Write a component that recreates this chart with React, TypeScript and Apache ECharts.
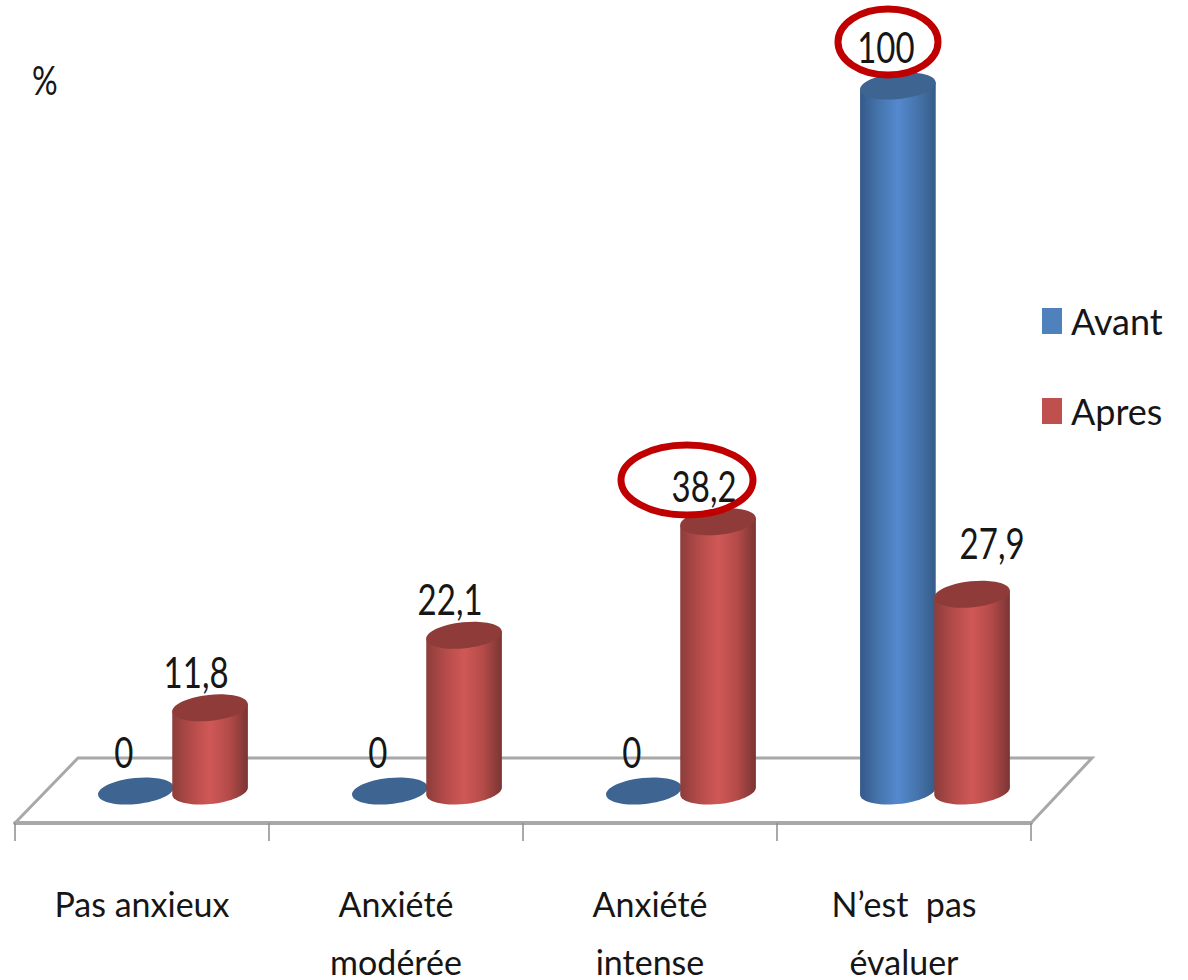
import React, { useEffect, useRef } from "react";
import * as echarts from "echarts";

const categories = ["Pas anxieux", "Anxiété\nmodérée", "Anxiété\nintense", "N’est  pas\névaluer"];
const avantValues = [0, 0, 0, 100];
const apresValues = [11.8, 22.1, 38.2, 27.9];
const seriesNames = ["Avant", "Apres"];

const FONT = 'Lato, "Liberation Sans", sans-serif';
const TILT = (6 * Math.PI) / 180;
const RX = 38;
const RY = 13;

const blueStops = ["#34598a", "#4675ad", "#5489cf", "#4675ad", "#355c88"];
const redStops = ["#8c3d3b", "#b44b49", "#d05856", "#b44b49", "#7a3533"];

const gradient = (stops: string[]) => ({
  type: "linear", x: 0, y: 0, x2: 1, y2: 0,
  colorStops: stops.map((color, i) => ({ offset: i / (stops.length - 1), color })),
});

const ex = (t: number) => RX * Math.cos(t) * Math.cos(TILT) + RY * Math.sin(t) * Math.sin(TILT);
const ey = (t: number) => -RX * Math.cos(t) * Math.sin(TILT) + RY * Math.sin(t) * Math.cos(TILT);
const T0 = Math.atan2(RY * Math.sin(TILT), RX * Math.cos(TILT));

function cylinder(opts: {
  bandShift: number; stops: string[]; top: string;
  labelNudge: (i: number) => [number, number];
}) {
  return (params: any, api: any) => {
    const i = api.value(0);
    const v = api.value(1);
    const band = api.size([1, 0])[0];
    const [cx0, yTop] = api.coord([i, v]);
    const [, yBase] = api.coord([i, 0]);
    const cx = cx0 + opts.bandShift * band;
    const children: any[] = [];
    if (v > 0) {
      const pts: number[][] = [[cx + ex(T0), yTop + ey(T0)]];
      for (let k = 0; k <= 32; k++) {
        const t = T0 + (Math.PI * k) / 32;
        pts.push([cx + ex(t), yBase + ey(t)]);
      }
      pts.push([cx + ex(T0 + Math.PI), yTop + ey(T0 + Math.PI)]);
      children.push({ type: "polygon", shape: { points: pts }, style: { fill: gradient(opts.stops) } });
    }
    children.push({
      type: "ellipse", x: cx, y: yTop, rotation: TILT,
      shape: { cx: 0, cy: 0, rx: RX, ry: RY }, style: { fill: opts.top },
    });
    const [dx, dy] = opts.labelNudge(i);
    children.push({
      type: "text", x: cx + dx, y: yTop + dy, scaleY: 1.3,
      style: {
        text: String(v).replace(".", ","),
        font: `33px ${FONT}`, fill: "#161616", align: "center", verticalAlign: "middle",
      },
    });
    return { type: "group", children };
  };
}

export default function App() {
  const ref = useRef<HTMLDivElement>(null);
  useEffect(() => {
    const chart = echarts.init(ref.current!, undefined, { renderer: "svg" });
    chart.setOption({
      animation: false,
      backgroundColor: "#ffffff",
      grid: { left: 15, right: 157, top: 86, bottom: 189, outerBoundsMode: "none" },
      legend: {
        orient: "vertical", left: 1042, top: 303, padding: 0, itemWidth: 20, itemHeight: 26, itemGap: 54,
        icon: "rect", data: seriesNames,
        textStyle: { fontFamily: FONT, fontSize: 36, color: "#161616", padding: [0, 0, 0, 4] },
      },
      xAxis: {
        type: "category", data: categories, offset: 32, boundaryGap: true,
        axisLine: { show: true, onZero: false, lineStyle: { color: "#a8a8a8", width: 4 } },
        axisTick: { show: true, length: 18, lineStyle: { color: "#8c8c8c", width: 1.5 } },
        axisLabel: {
          fontFamily: FONT, fontSize: 34, color: "#161616", lineHeight: 58, margin: 51,
          interval: 0, hideOverlap: false,
        },
      },
      yAxis: { type: "value", min: 0, max: 100, show: false },
      graphic: [
        {
          type: "polyline", z: 0, silent: true,
          shape: { points: [[15, 823], [78, 758], [1092, 758], [1031, 823]] },
          style: { stroke: "#a8a8a8", lineWidth: 3, fill: "none" },
        },
        {
          type: "text", x: 32, y: 60, z: 10, scaleY: 1.25,
          style: { text: "%", font: `32px ${FONT}`, fill: "#161616" },
        },
        {
          type: "ellipse", z: 100, silent: true,
          shape: { cx: 888, cy: 42, rx: 50, ry: 33 },
          style: { fill: "none", stroke: "#c00000", lineWidth: 7 },
        },
        {
          type: "ellipse", z: 100, silent: true,
          shape: { cx: 687, cy: 480, rx: 66, ry: 35 },
          style: { fill: "none", stroke: "#c00000", lineWidth: 7 },
        },
      ],
      series: [
        {
          name: seriesNames[0], type: "custom", clip: false, z: 5,
          itemStyle: { color: "#4f81bd" },
          encode: { x: 0, y: 1 },
          data: avantValues.map((v, i) => [i, v]),
          renderItem: cylinder({
            bandShift: -0.024, stops: blueStops, top: "#3e6591",
            labelNudge: () => [-12, -40],
          }),
        },
        {
          name: seriesNames[1], type: "custom", clip: false, z: 6,
          itemStyle: { color: "#c0504d" },
          encode: { x: 0, y: 1 },
          data: apresValues.map((v, i) => [i, v]),
          renderItem: cylinder({
            bandShift: 0.268, stops: redStops, top: "#8e3b39",
            labelNudge: (i) => (i === 3 ? [20, -52] : [-14, -37]),
          }),
        },
      ],
    });
    return () => chart.dispose();
  }, []);
  return <div ref={ref} style={{ position: "fixed", left: 0, top: 0, width: 1188, height: 980 }} />;
}
